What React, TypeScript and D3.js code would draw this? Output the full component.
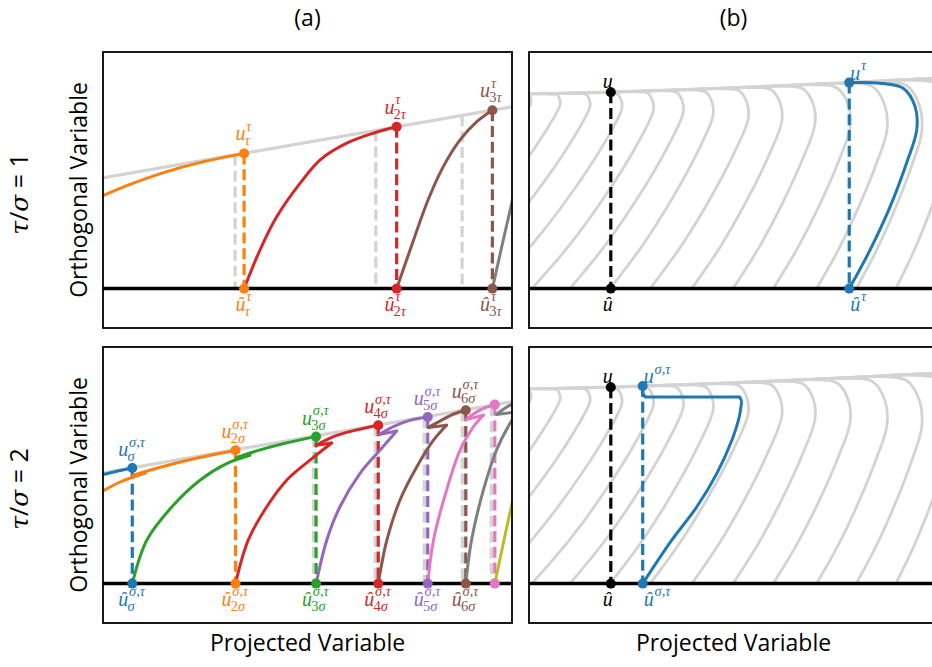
import React from 'react';
import * as d3 from 'd3';

type P = [number, number];

// ---------------- data ----------------
// guide ("manifold") line, left column
const manifoldLeft: P[] = [[0, 55.4], [100, 90.9]];
// guide line, right column
const manifoldRight: P[] = [[-40, 95.8], [0, 97.3], [20, 98.2], [50, 100.4], [78.3, 103], [100, 105.3], [130, 108.5]];

// (a) tau/sigma = 1
const tauX = [34.5, 71.8, 95.2];
const tauY = [67.6, 80.9, 89.2];
const tauSub = ['τ', '2τ', '3τ'];
const tauGhostX = [32.3, 66.7, 87.8];
const tauPaths: P[][] = [
  [[0, 46.5], [7.4, 52.7], [15.6, 58.5], [23.7, 63], [34.5, 67.6]],
  [[34.5, 0], [38.4, 19.4], [42.5, 36], [48.2, 52.7], [53.1, 64.4], [59.6, 72.7], [66.1, 77.7], [71.8, 80.9]],
  [[71.8, 0], [75.1, 19.4], [79.5, 44.4], [83.2, 61], [87.3, 74.4], [91.4, 83.5], [95.2, 89.2]],
  [[95.2, 0], [100.3, 46], [101.8, 58]],
];

// (a) tau/sigma = 2
const sigmaX = [7.16, 32.4, 52.1, 67.3, 79.4, 88.7, 95.8];
const sigmaY = [57.8, 66.7, 73.5, 79.2, 83.3, 86.7, 89.5];
const sigmaSub = ['σ', '2σ', '3σ', '4σ', '5σ', '6σ', ''];
const sigmaGhostX = [51.5, 66.6, 78.6, 87.9, 95.0];
const sigmaPaths: P[][][] = [
  [[[0, 54.5], [3.6, 56.3], [7.16, 57.8]]],
  [[[0, 46.3], [4.2, 50.8], [10.3, 55.3]], [[10.3, 55.3], [7.4, 54.2]], [[7.4, 54.2], [14, 58.2], [22, 62.3], [32.4, 66.7]]],
  [[[7.16, 0], [10.7, 21.7], [16.8, 38.3], [23.7, 51.7], [30.2, 60], [35.9, 64.2]], [[35.9, 64.2], [32.7, 63]], [[32.7, 63], [38, 66.6], [45, 70.4], [52.1, 73.5]]],
  [[[32.4, 0], [35.5, 21.7], [40, 38.3], [44.9, 51.7], [50.6, 61.7], [55.9, 70.3]], [[55.9, 70.3], [52.1, 69.2]], [[52.1, 69.2], [56.5, 73.6], [61.5, 76.6], [67.3, 79.2]]],
  [[[52.1, 0], [54.7, 21.7], [57.9, 38.3], [62.8, 55], [67.7, 66.7], [71.8, 76.3]], [[71.8, 76.3], [67.5, 74.5]], [[67.5, 74.5], [71, 78.5], [75, 81.6], [79.4, 83.3]]],
  [[[67.3, 0], [69.4, 21.7], [72.6, 41.7], [76.7, 58.3], [80.8, 71.7], [84, 79.2]], [[84, 79.2], [79.5, 78]], [[79.5, 78], [83, 82], [85.8, 84.8], [88.7, 86.7]]],
  [[[79.4, 0], [80.8, 21.7], [84, 46.7], [87.3, 66.7], [90.5, 78.3], [93, 84.2]], [[93, 84.2], [88.7, 82]], [[88.7, 82], [91.5, 86], [93.8, 88.2], [95.8, 89.5]]],
  [[[88.7, 0], [90.1, 21.7], [93, 46.7], [96.2, 66.7], [99.5, 80], [101.5, 86]], [[101.5, 86], [96.2, 84.6]], [[96.2, 84.6], [99, 88.6], [102, 91.5]]],
  [[[95.8, 0], [100.2, 41.7], [101.5, 52]]],
];

// (b) flow lines (bottom foot, rightmost point, height of rightmost point)
const flowFoot = [-38.5, -28.7, -18.9, -9.1, 0.7, 10, 19.8, 29.6, 39.8, 49.9, 59.7, 70.3, 80, 89.7, 99.5];
const flowPeakX = [0.5, 7.6, 14.9, 22.7, 30.4, 37.7, 45, 53.6, 61.8, 69.9, 78.5, 87.5, 96, 104, 112.7];
const flowPeakY = [93, 92, 91, 90, 89, 88, 86.5, 85, 83.5, 82, 80.5, 79, 78, 77, 76];

// (b) reference point u
const uX = 20;
const uY = 98.2;
// (b) tau/sigma = 1 iterate
const bTauX = 78.3;
const bTauY = 103;
const bTauPath: P[] = [[78.3, 0], [83.4, 19.35], [88.3, 41], [92.3, 62.7], [94.8, 79.35], [94.4, 91], [91.5, 100.2], [85.8, 102.7], [78.3, 103]];
// (b) tau/sigma = 2 iterate
const bSigX = 27.8;
const bSigY = 98.8;
const bSigRise: P[] = [[27.8, 0], [34.9, 21.7], [41, 38.3], [45.9, 55], [49.6, 71.7], [51.4, 83.3], [52, 91.2]];
const bSigBack: P[] = [[52, 91.2], [51.5, 93.3], [28.4, 93.3], [27.8, 95.3], [27.8, 98.8]];

// ---------------- layout ----------------
const W = 932, H = 667;
const PW = 409, PH = 276;
const COLS = [103, 529];
const ROWS = [52, 347];
const YDOM: [number, number] = [-19.7, 118.3];

const TXT = "'Open Sans', 'DejaVu Sans', sans-serif";
const MATH = "'Liberation Serif', 'DejaVu Serif', serif";
const GREEK = "'DejaVu Serif', 'Liberation Serif', serif";
const LIGHT = '#d3d3d3';
const tauColors = ['#ff7f0e', '#d62728', '#8c564b', '#7f7f7f'];
const sigmaColors = ['#1f77b4', '#ff7f0e', '#2ca02c', '#d62728', '#9467bd', '#8c564b', '#e377c2', '#7f7f7f', '#bcbd22'];
const BLUE = '#1f77b4';
const DASH = '11,4.8';

function scales(col: number, row: number) {
  const x = d3.scaleLinear().domain([0, 100]).range([COLS[col], COLS[col] + PW]);
  const y = d3.scaleLinear().domain(YDOM).range([ROWS[row] + PH, ROWS[row]]);
  return { x, y };
}

function lineGen(x: any, y: any, curved = true) {
  const g = d3.line<P>().x((d) => x(d[0])).y((d) => y(d[1]));
  return curved ? g.curve(d3.curveCatmullRom.alpha(0.5)) : g;
}

const leftTop = d3.scaleLinear().domain(manifoldLeft.map((d) => d[0])).range(manifoldLeft.map((d) => d[1]));
const rightTop = d3.scaleLinear().domain(manifoldRight.map((d) => d[0])).range(manifoldRight.map((d) => d[1]));

function flowCurve(b: number, r: number, hp: number): P[] {
  const w = r - b;
  const top = rightTop(r);
  const dl = top - hp;
  const L = 0.7 * dl;
  return [
    [b, 0],
    [b + 0.31 * w, 0.245 * hp],
    [b + 0.6 * w, 0.517 * hp],
    [b + 0.85 * w, 0.79 * hp],
    [r, hp],
    [r - 0.025 * L, hp + 0.49 * dl],
    [r - 0.2 * L, hp + 0.88 * dl],
    [r - 0.55 * L, rightTop(r - 0.55 * L) - 0.3],
    [r - L, rightTop(r - L)],
    [r - L - 8, rightTop(r - L - 8)],
  ];
}

const SFS = 14.5;
function scriptSpans(s: string) {
  return s.split('').map((ch, i) => (
    <tspan key={i} fontStyle={/[0-9,]/.test(ch) ? 'normal' : 'italic'}>{ch}</tspan>
  ));
}

function scriptWidth(s: string) {
  let w = 0;
  for (const ch of s) w += ch === ',' ? 0.25 * SFS : 0.5 * SFS;
  return w;
}

function MathLabel(props: { x: number; y: number; base: string; sup?: string; sub?: string; color: string; anchor?: 'middle' | 'start' | 'end' }) {
  const { x, y, base, sup, sub, color, anchor = 'middle' } = props;
  const fs = 20;
  const baseW = 10;
  const sw = Math.max(sup ? scriptWidth(sup) : 0, sub ? scriptWidth(sub) : 0);
  const total = baseW + sw;
  const x0 = anchor === 'middle' ? x - total / 2 : anchor === 'end' ? x - total : x;
  return (
    <g fill={color} fontFamily={MATH}>
      <text x={x0} y={y} fontSize={fs} fontStyle="italic">{base}</text>
      {sup ? <text x={x0 + baseW + 0.8} y={y - 9.5} fontSize={SFS}>{scriptSpans(sup)}</text> : null}
      {sub ? <text x={x0 + baseW - 0.8} y={y + 5} fontSize={SFS}>{scriptSpans(sub)}</text> : null}
    </g>
  );
}

function Frame({ col, row }: { col: number; row: number }) {
  return <rect x={COLS[col]} y={ROWS[row]} width={PW} height={PH} fill="none" stroke="#000" strokeWidth={1.8} />;
}

function ClipDefs() {
  return (
    <defs>
      {[0, 1].map((c) => [0, 1].map((r) => (
        <clipPath id={`clip${c}${r}`} key={`${c}${r}`}>
          <rect x={COLS[c]} y={ROWS[r]} width={PW} height={PH} />
        </clipPath>
      )))}
    </defs>
  );
}

function PanelATau() {
  const { x, y } = scales(0, 0);
  const lc = lineGen(x, y);
  const ll = lineGen(x, y, false);
  return (
    <g>
      <g clipPath="url(#clip00)">
        <path d={ll(manifoldLeft)!} stroke={LIGHT} strokeWidth={3.2} fill="none" />
        {tauGhostX.map((g, i) => (
          <path key={i} d={ll([[g, leftTop(g)], [g, 0]])!} stroke={LIGHT} strokeWidth={3.2} strokeDasharray={DASH} fill="none" />
        ))}
        {tauPaths.map((p, i) => (
          <path key={i} d={lc(p)!} stroke={tauColors[i]} strokeWidth={3} fill="none" strokeLinecap="round" />
        ))}
        {tauX.map((v, i) => (
          <path key={i} d={ll([[v, tauY[i]], [v, 0]])!} stroke={tauColors[i]} strokeWidth={3.2} strokeDasharray={DASH} fill="none" />
        ))}
        <path d={ll([[-5, 0], [105, 0]])!} stroke="#000" strokeWidth={3.5} />
        {tauX.map((v, i) => (
          <g key={i} fill={tauColors[i]}>
            <circle cx={x(v)} cy={y(tauY[i])} r={5} />
            <circle cx={x(v)} cy={y(0)} r={5} />
          </g>
        ))}
      </g>
      {tauX.map((v, i) => (
        <g key={i}>
          <MathLabel x={x(v)} y={y(tauY[i]) - 13} base="u" sup="τ" sub={tauSub[i]} color={tauColors[i]} />
          <MathLabel x={x(v)} y={y(0) + 22} base="û" sup="τ" sub={tauSub[i]} color={tauColors[i]} />
        </g>
      ))}
      <Frame col={0} row={0} />
    </g>
  );
}

function PanelASigma() {
  const { x, y } = scales(0, 1);
  const lc = lineGen(x, y);
  const ll = lineGen(x, y, false);
  return (
    <g>
      <g clipPath="url(#clip01)">
        <path d={ll(manifoldLeft)!} stroke={LIGHT} strokeWidth={3.2} fill="none" />
        {sigmaGhostX.map((g, i) => (
          <path key={i} d={ll([[g, leftTop(g)], [g, 0]])!} stroke={LIGHT} strokeWidth={3.6} strokeDasharray={DASH} fill="none" />
        ))}
        {sigmaX.map((v, i) => (
          <path key={i} d={ll([[v, sigmaY[i]], [v, 0]])!} stroke={sigmaColors[i]} strokeWidth={3.2} strokeDasharray={DASH} fill="none" />
        ))}
        {sigmaPaths.map((segs, i) => (
          <g key={i} stroke={sigmaColors[i]} strokeWidth={3} fill="none" strokeLinecap="round" strokeLinejoin="round">
            {segs.map((s, j) => <path key={j} d={(s.length > 2 ? lc : ll)(s)!} />)}
          </g>
        ))}
        <path d={ll([[-5, 0], [105, 0]])!} stroke="#000" strokeWidth={3.5} />
        {sigmaX.map((v, i) => (
          <g key={i} fill={sigmaColors[i]}>
            <circle cx={x(v)} cy={y(sigmaY[i])} r={5} />
            <circle cx={x(v)} cy={y(0)} r={5} />
          </g>
        ))}
      </g>
      {sigmaX.map((v, i) => sigmaSub[i] ? (
        <g key={i}>
          <MathLabel x={x(v)} y={y(sigmaY[i]) - 12} base="u" sup="σ,τ" sub={sigmaSub[i]} color={sigmaColors[i]} />
          <MathLabel x={x(v)} y={y(0) + 22} base="û" sup="σ,τ" sub={sigmaSub[i]} color={sigmaColors[i]} />
        </g>
      ) : null)}
      <Frame col={0} row={1} />
    </g>
  );
}

function Flows({ row }: { row: number }) {
  const { x, y } = scales(1, row);
  const lc = lineGen(x, y);
  return (
    <g>
      {flowFoot.map((b, i) => (
        <path key={i} d={lc(flowCurve(b, flowPeakX[i], flowPeakY[i]))!} stroke={LIGHT} strokeWidth={2.8} fill="none" />
      ))}
      <path d={lc(manifoldRight)!} stroke={LIGHT} strokeWidth={3.2} fill="none" />
    </g>
  );
}

function PanelB({ row }: { row: number }) {
  const { x, y } = scales(1, row);
  const lc = lineGen(x, y);
  const ll = lineGen(x, y, false);
  const px = row === 0 ? bTauX : bSigX;
  const py = row === 0 ? bTauY : bSigY;
  const sup = row === 0 ? 'τ' : 'σ,τ';
  return (
    <g>
      <g clipPath={`url(#clip1${row})`}>
        <Flows row={row} />
        <path d={ll([[uX, uY], [uX, 0]])!} stroke="#000" strokeWidth={3.2} strokeDasharray={DASH} fill="none" />
        <path d={ll([[px, py], [px, 0]])!} stroke={BLUE} strokeWidth={3.2} strokeDasharray={DASH} fill="none" />
        {row === 0 ? (
          <path d={lc(bTauPath)!} stroke={BLUE} strokeWidth={3} fill="none" />
        ) : (
          <g stroke={BLUE} strokeWidth={3} fill="none" strokeLinejoin="round">
            <path d={lc(bSigRise)!} />
            <path d={ll(bSigBack)!} />
          </g>
        )}
        <path d={ll([[-5, 0], [105, 0]])!} stroke="#000" strokeWidth={3.5} />
        <circle cx={x(uX)} cy={y(uY)} r={5} fill="#000" />
        <circle cx={x(uX)} cy={y(0)} r={5} fill="#000" />
        <circle cx={x(px)} cy={y(py)} r={5} fill={BLUE} />
        <circle cx={x(px)} cy={y(0)} r={5} fill={BLUE} />
      </g>
      <MathLabel x={x(uX) - 3} y={y(uY) - 4} base="u" color="#000" />
      <MathLabel x={x(uX) - 3} y={y(0) + 22} base="û" color="#000" />
      <MathLabel x={x(px) + 1} y={y(py) - 3} base="u" sup={sup} color={BLUE} anchor="start" />
      <MathLabel x={x(px) + 1} y={y(0) + 22} base="û" sup={sup} color={BLUE} anchor="start" />
      <Frame col={1} row={row} />
    </g>
  );
}

function RowLabel({ row, value }: { row: number; value: string }) {
  const cy = ROWS[row] + PH / 2 + 4;
  return (
    <g>
      <text transform={`translate(28,${cy}) rotate(-90)`} textAnchor="middle" fontSize={25} fontFamily={TXT} fill="#000">
        <tspan fontFamily={GREEK} fontStyle="italic">τ</tspan>
        <tspan>/</tspan>
        <tspan fontFamily={GREEK} fontStyle="italic">σ</tspan>
        <tspan>{` = ${value}`}</tspan>
      </text>
      <text transform={`translate(87,${ROWS[row] + PH / 2}) rotate(-90)`} textAnchor="middle" fontSize={23} fontFamily={TXT} fill="#000">
        Orthogonal Variable
      </text>
    </g>
  );
}

export default function App() {
  return (
    <svg width={W} height={H} style={{ position: 'absolute', left: 0, top: 0, background: '#fff' }}>
      <rect x={0} y={0} width={W} height={H} fill="#fff" />
      <ClipDefs />
      <text x={COLS[0] + PW / 2} y={26} textAnchor="middle" fontSize={23} fontFamily={TXT}>(a)</text>
      <text x={COLS[1] + PW / 2} y={26} textAnchor="middle" fontSize={23} fontFamily={TXT}>(b)</text>
      <RowLabel row={0} value="1" />
      <RowLabel row={1} value="2" />
      <PanelATau />
      <PanelASigma />
      <PanelB row={0} />
      <PanelB row={1} />
      <text x={COLS[0] + PW / 2} y={651} textAnchor="middle" fontSize={23} fontFamily={TXT}>Projected Variable</text>
      <text x={COLS[1] + PW / 2} y={651} textAnchor="middle" fontSize={23} fontFamily={TXT}>Projected Variable</text>
    </svg>
  );
}
